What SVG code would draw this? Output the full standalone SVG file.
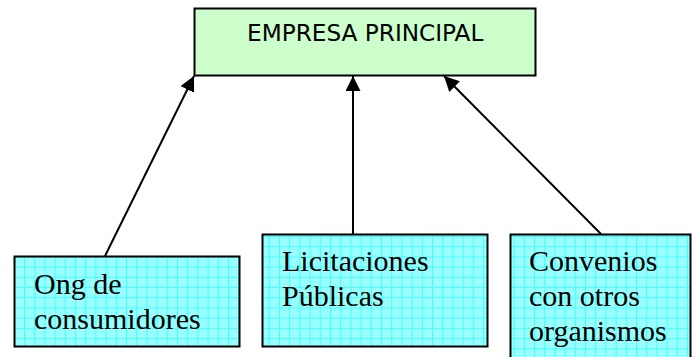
<svg xmlns="http://www.w3.org/2000/svg" width="692" height="357" viewBox="0 0 692 357">
<style>
.box{stroke:#000;stroke-width:2}
.cy{fill:url(#grid)}
.t{font-family:"Liberation Serif","Times New Roman",serif;font-size:30px;fill:#000}
.h{font-family:"DejaVu Sans",Verdana,sans-serif;font-size:23.200px;fill:#000}
.c{stroke:#000;stroke-width:2;fill:none;marker-end:url(#arrow)}
</style>
<defs>
<pattern id="grid" patternUnits="userSpaceOnUse" x="3.600" y="1.500" width="10.2" height="10.2">
<rect width="10.2" height="10.2" fill="#99ffff"/>
<path d="M0 .5H10.2M.5 0V10.2" stroke="#44ffff" stroke-width="1" fill="none"/>
</pattern>
<marker id="arrow" markerUnits="userSpaceOnUse" markerWidth="17" markerHeight="16" refX="15" refY="7.500" orient="auto">
<path d="M0 0L15 7.500L0 15Z" fill="#000"/>
</marker>
</defs>
<rect width="692" height="357" fill="#fff"/>
<g id="connectors">
<line class="c" x1="105" y1="256" x2="194" y2="76"/>
<line class="c" x1="353" y1="234" x2="353" y2="76"/>
<line class="c" x1="601" y1="234" x2="444" y2="76"/>
</g>
<g id="empresa">
<rect class="box" x="194.500" y="8.500" width="341" height="67" fill="#ccffcc"/>
<text class="h" x="247" y="41">EMPRESA PRINCIPAL</text>
</g>
<g id="ong">
<rect class="box cy" x="14.500" y="256.500" width="225" height="90"/>
<text class="t" x="34" y="293.500">Ong de</text>
<text class="t" x="34" y="328.500">consumidores</text>
</g>
<g id="licitaciones">
<rect class="box cy" x="262.500" y="234.500" width="225" height="112"/>
<text class="t" x="282" y="270.500">Licitaciones</text>
<text class="t" x="282" y="305.500">Públicas</text>
</g>
<g id="convenios">
<rect class="box cy" x="510.500" y="234.500" width="180" height="130"/>
<text class="t" x="529" y="270.500">Convenios</text>
<text class="t" x="529" y="305.500">con otros</text>
<text class="t" x="529" y="340.500">organismos</text>
</g>
</svg>
